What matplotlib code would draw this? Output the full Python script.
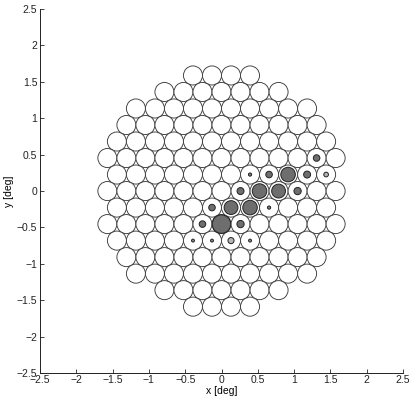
import numpy as np
import matplotlib.pyplot as plt
from matplotlib.patches import Circle

plt.rcParams['font.family'] = ['Liberation Sans', 'DejaVu Sans']

pitch = 0.262          # fibre centre spacing [deg]
fib_r = 0.131          # fibre radius [deg]

# hexagonal bundle, rows from top (j=7) to bottom (j=-7)
row_idx = list(range(7, -8, -1))
row_counts = [4, 7, 10, 11, 12, 13, 12, 13, 12, 13, 12, 11, 10, 7, 4]

# lit fibres: row index, column (units of pitch), spot radius [deg], shade
spot_row = [2, 1, 1, 1, 1, 1, 0, 0, 0, 0, -1, -1, -1, -1, -2, -2, -2, -3, -3, -3, -3]
spot_col = [5, 1.5, 2.5, 3.5, 4.5, 5.5, 1, 2, 3, 4, -0.5, 0.5, 1.5, 2.5, -1, 0, 1,
            -1.5, -0.5, 0.5, 1.5]
spot_r = [0.045, 0.022, 0.045, 0.1, 0.048, 0.032, 0.048, 0.1, 0.095, 0.05,
          0.045, 0.095, 0.1, 0.022, 0.045, 0.127, 0.05, 0.02, 0.02, 0.042, 0.02]
spot_c = ['#6e6e6e', '#7a7a7a', '#6e6e6e', '#6e6e6e', '#6e6e6e', '#b4b4b4',
          '#6e6e6e', '#6e6e6e', '#6e6e6e', '#6e6e6e', '#6e6e6e', '#6e6e6e',
          '#6e6e6e', '#7a7a7a', '#6e6e6e', '#6e6e6e', '#6e6e6e', '#8a8a8a',
          '#8a8a8a', '#b4b4b4', '#8a8a8a']

dy = pitch * np.sqrt(3) / 2

fig = plt.figure(figsize=(4.15, 4.03), dpi=100)
ax = fig.add_axes([0.0964, 0.0744, 0.8747, 0.903])

for j, n in zip(row_idx, row_counts):
    for k in range(n):
        x = (k - (n - 1) / 2) * pitch
        ax.add_patch(Circle((x, j * dy), fib_r, facecolor='white',
                            edgecolor='#3c3c3c', lw=0.65))

for j, k, r, c in zip(spot_row, spot_col, spot_r, spot_c):
    ax.add_patch(Circle((k * pitch, j * dy), r, facecolor=c,
                        edgecolor='#222222', lw=0.7, zorder=3))

ax.set_xlim(-2.5, 2.5)
ax.set_ylim(-2.5, 2.5)
ticks = np.arange(-2.5, 2.51, 0.5)
labels = [('%g' % t).replace('-', '\u2212') for t in ticks]
ax.set_xticks(ticks)
ax.set_yticks(ticks)
ax.set_xticklabels(labels)
ax.set_yticklabels(labels)
for s in ['top', 'right']:
    ax.spines[s].set_visible(False)
for s in ['left', 'bottom']:
    ax.spines[s].set_linewidth(0.7)
    ax.spines[s].set_color('#222222')
ax.tick_params(direction='in', length=3, width=0.6, labelsize=7.5, pad=2,
               colors='#222222')
ax.tick_params(axis='x', pad=1.5)
ax.set_xlabel('x [deg]', fontsize=7.5, labelpad=0.5)
ax.set_ylabel('y [deg]', fontsize=7.5, labelpad=2)

fig.savefig('out.png', dpi=100)
